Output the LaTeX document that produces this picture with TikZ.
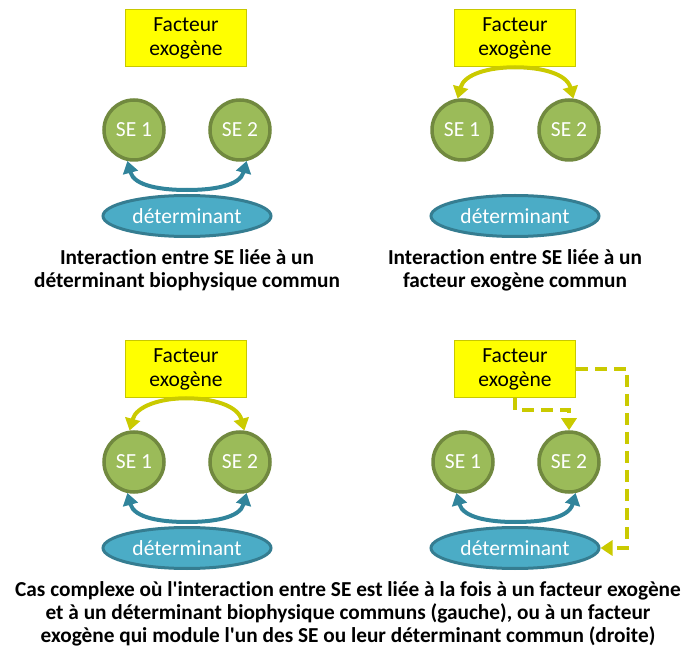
\documentclass[tikz,border=0pt]{standalone}
\usepackage{fontspec}
\setmainfont{Carlito}[Ligatures=NoCommon]
\usepackage{tikz}
\usetikzlibrary{arrows.meta,positioning,shapes.geometric}
\definecolor{fac-fill}{HTML}{FFFF00}
\definecolor{fac-line}{HTML}{C8C800}
\definecolor{se-fill}{HTML}{9BBB59}
\definecolor{se-line}{HTML}{71893F}
\definecolor{det-fill}{HTML}{4BACC6}
\definecolor{det-line}{HTML}{357D91}
\definecolor{teal-arr}{HTML}{31849B}
\definecolor{yel-arr}{HTML}{CACA00}

\tikzset{
    facteur/.style={draw=fac-line, fill=fac-fill, line width=1.5pt, minimum width=121pt, minimum height=57pt, align=center, font=\fontsize{21.5}{24}\selectfont},
    sebox/.style={circle, draw=se-line, fill=se-fill, line width=3.5pt, minimum size=60pt, text=white, font=\fontsize{21.5}{24}\selectfont},
    detbox/.style={ellipse, draw=det-line, fill=det-fill, line width=3pt, minimum width=168pt, minimum height=41pt, text=white, font=\fontsize{21.5}{24}\selectfont},
    legende/.style={align=center, font=\bfseries\fontsize{21.3}{23.2}\selectfont},
    tealarr/.style={draw=teal-arr, line width=4pt, -{Triangle[length=12pt,width=15pt]}},
    yelarr/.style={draw=yel-arr, line width=4pt, -{Triangle[length=12pt,width=15pt]}},
    yeldash/.style={yelarr, dash pattern=on 12pt off 7pt}
}

\begin{document}
\begin{tikzpicture}[x=1pt, y=-1pt]
    \useasboundingbox (0,0) rectangle (686,652);

    % haut gauche : determinant commun
    \node[facteur] (facA) at (186,38) {Facteur\\exogène};
    \node[sebox] (seA1) at (134,130) {SE 1};
    \node[sebox] (seA2) at (240,130) {SE 2};
    \node[detbox] (detA) at (187,216) {déterminant};
    \draw[tealarr] ([yshift=4pt]detA.north) to[out=180,in=-75] (seA1.-102);
    \draw[tealarr] ([yshift=4pt]detA.north) to[out=0,in=-105] (seA2.-78);
    \node[legende] (legA) at (187,270) {Interaction entre SE liée à un\\déterminant biophysique commun};

    % haut droite : facteur exogene commun
    \node[facteur] (facB) at (515,38) {Facteur\\exogène};
    \node[sebox] (seB1) at (462,130) {SE 1};
    \node[sebox] (seB2) at (569,130) {SE 2};
    \node[detbox] (detB) at (515,216) {déterminant};
    \draw[yelarr] (facB.south) to[out=180,in=75] (seB1.98);
    \draw[yelarr] (facB.south) to[out=0,in=105] (seB2.82);
    \node[legende] (legB) at (515,270) {Interaction entre SE liée à un\\facteur exogène commun};

    % bas gauche : les deux
    \node[facteur] (facC) at (186,369) {Facteur\\exogène};
    \node[sebox] (seC1) at (134,462) {SE 1};
    \node[sebox] (seC2) at (240,462) {SE 2};
    \node[detbox] (detC) at (187,548) {déterminant};
    \draw[yelarr] (facC.south) to[out=180,in=75] (seC1.98);
    \draw[yelarr] (facC.south) to[out=0,in=105] (seC2.82);
    \draw[tealarr] ([yshift=4pt]detC.north) to[out=180,in=-75] (seC1.-102);
    \draw[tealarr] ([yshift=4pt]detC.north) to[out=0,in=-105] (seC2.-78);

    % bas droite : facteur qui module
    \node[facteur] (facD) at (515,369) {Facteur\\exogène};
    \node[sebox] (seD1) at (463,462) {SE 1};
    \node[sebox] (seD2) at (569,462) {SE 2};
    \node[detbox] (detD) at (515,548) {déterminant};
    \draw[tealarr] ([yshift=4pt]detD.north) to[out=180,in=-75] (seD1.-102);
    \draw[tealarr] ([yshift=4pt]detD.north) to[out=0,in=-105] (seD2.-78);
    \draw[yeldash] (facD.south) -- ++(0,12) -| (seD2.north);
    \draw[yeldash] (facD.east) -- ++(51,0) |- (detD.east);

    \node[legende] (legD) at (348,614) {Cas complexe où l\textquotesingle interaction entre SE est liée à la fois à un facteur exogène\\et à un déterminant biophysique communs (gauche), ou à un facteur\\exogène qui module l\textquotesingle un des SE ou leur déterminant commun (droite)};
\end{tikzpicture}
\end{document}
